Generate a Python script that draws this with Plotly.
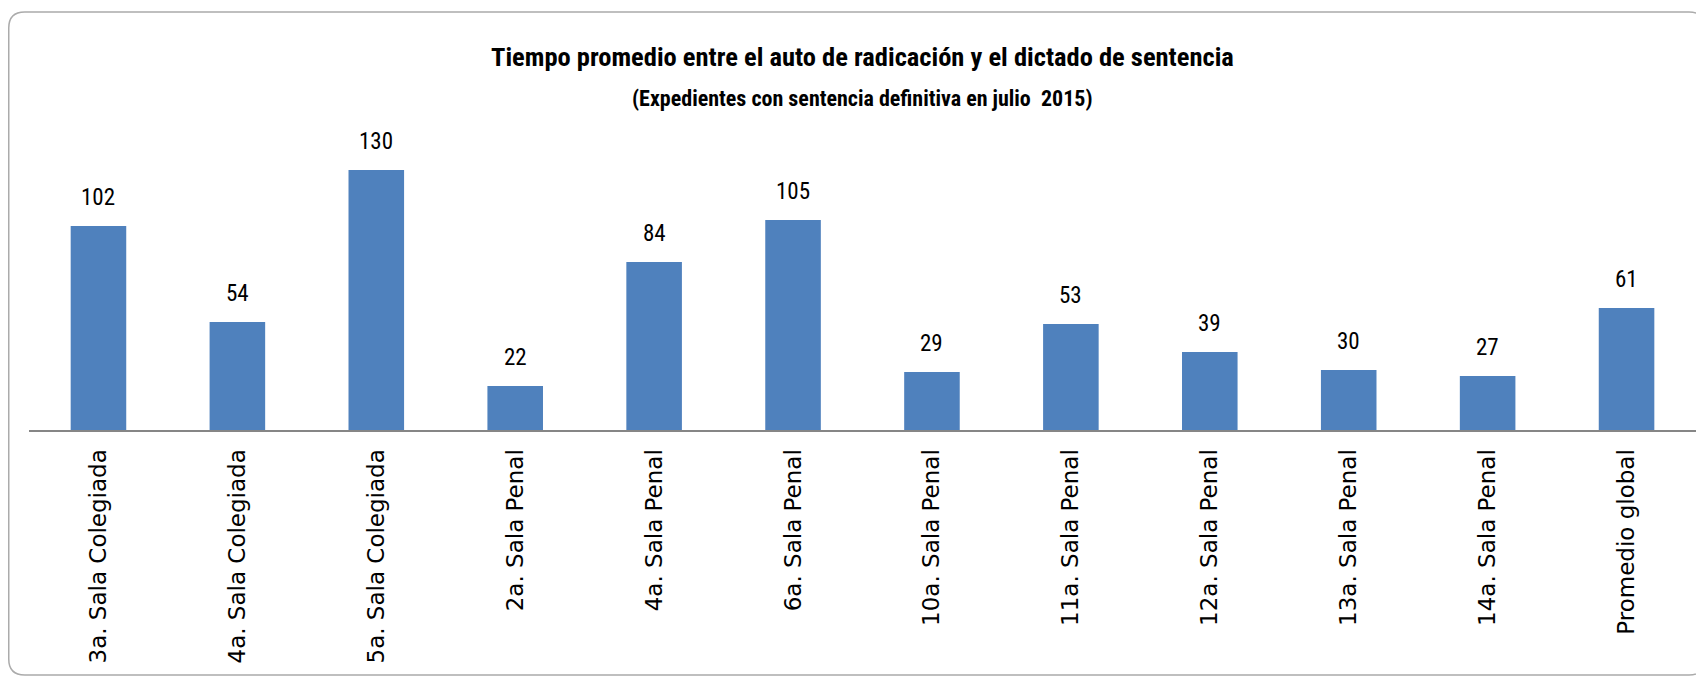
import plotly.graph_objects as go

categories = ["3a. Sala Colegiada", "4a. Sala Colegiada", "5a. Sala Colegiada",
              "2a. Sala Penal", "4a. Sala Penal", "6a. Sala Penal", "10a. Sala Penal",
              "11a. Sala Penal", "12a. Sala Penal", "13a. Sala Penal", "14a. Sala Penal",
              "Promedio global"]
values = [102, 54, 130, 22, 84, 105, 29, 53, 39, 30, 27, 61]

title_text = "Tiempo promedio entre el auto de radicación y el dictado de sentencia"
subtitle_text = "(Expedientes con sentencia definitiva en julio  2015)"

# page has an 8px body margin, so the figure is drawn 8px smaller
W, H = 1696, 669
ML, MR, MT, MB = 21, 8, 122, 247
PW = W - ML - MR
PH = H - MT - MB

NARROW = "Liberation Sans Narrow, Arial Narrow, Roboto Condensed, sans-serif"

def px2x(px):
    return (px - ML) / PW

def py2y(py):
    return (H - MB - py) / PH

# rounded border (pixel geometry converted to paper coords); right side runs off the page
x0, x1, y0, y1, r = 0.75, 1697, 4, 667, 16
path = (
    f"M {px2x(x0 + r)},{py2y(y0)} "
    f"L {px2x(x1 - r)},{py2y(y0)} "
    f"Q {px2x(x1)},{py2y(y0)} {px2x(x1)},{py2y(y0 + r)} "
    f"L {px2x(x1)},{py2y(y1 - r)} "
    f"Q {px2x(x1)},{py2y(y1)} {px2x(x1 - r)},{py2y(y1)} "
    f"L {px2x(x0 + r)},{py2y(y1)} "
    f"Q {px2x(x0)},{py2y(y1)} {px2x(x0)},{py2y(y1 - r)} "
    f"L {px2x(x0)},{py2y(y0 + r)} "
    f"Q {px2x(x0)},{py2y(y0)} {px2x(x0 + r)},{py2y(y0)} Z"
)

fig = go.Figure()
fig.add_trace(go.Bar(
    x=categories, y=values,
    marker=dict(color="#4F81BD", line=dict(width=0)),
    hoverinfo="x+y",
))

annotations = []
for c, v in zip(categories, values):
    annotations.append(dict(
        x=c, y=v, xref="x", yref="y", text=str(v), showarrow=False,
        yanchor="middle", yshift=28.5,
        font=dict(family=NARROW, size=23, color="#000000"),
    ))
annotations.append(dict(
    x=0.5, y=1, xref="paper", yref="paper", text=f"<b>{title_text}</b>",
    showarrow=False, yanchor="middle", yshift=74,
    font=dict(family=NARROW, size=26.5, color="#000000"),
))
annotations.append(dict(
    x=0.5, y=1, xref="paper", yref="paper", text=f"<b>{subtitle_text}</b>",
    showarrow=False, yanchor="middle", yshift=32,
    font=dict(family=NARROW, size=22, color="#000000"),
))

fig.update_layout(
    width=W, height=H,
    margin=dict(l=ML, r=MR, t=MT, b=MB, autoexpand=False),
    paper_bgcolor="#FFFFFF", plot_bgcolor="#FFFFFF",
    bargap=0.6,
    showlegend=False,
    annotations=annotations,
    shapes=[dict(type="path", path=path, xref="paper", yref="paper",
                 line=dict(color="#ABABAB", width=1.5), fillcolor="rgba(0,0,0,0)",
                 layer="below")],
    xaxis=dict(
        type="category",
        showgrid=False, zeroline=False,
        showline=True, linecolor="#868686", linewidth=2,
        ticks="", tickangle=-90, ticklabelstandoff=8,
        tickfont=dict(family="DejaVu Sans, Verdana, sans-serif", size=23, color="#000000"),
        fixedrange=True,
    ),
    yaxis=dict(
        range=[0, 150], visible=False, showgrid=False, zeroline=False, fixedrange=True,
    ),
)

fig.write_html("out.html")
